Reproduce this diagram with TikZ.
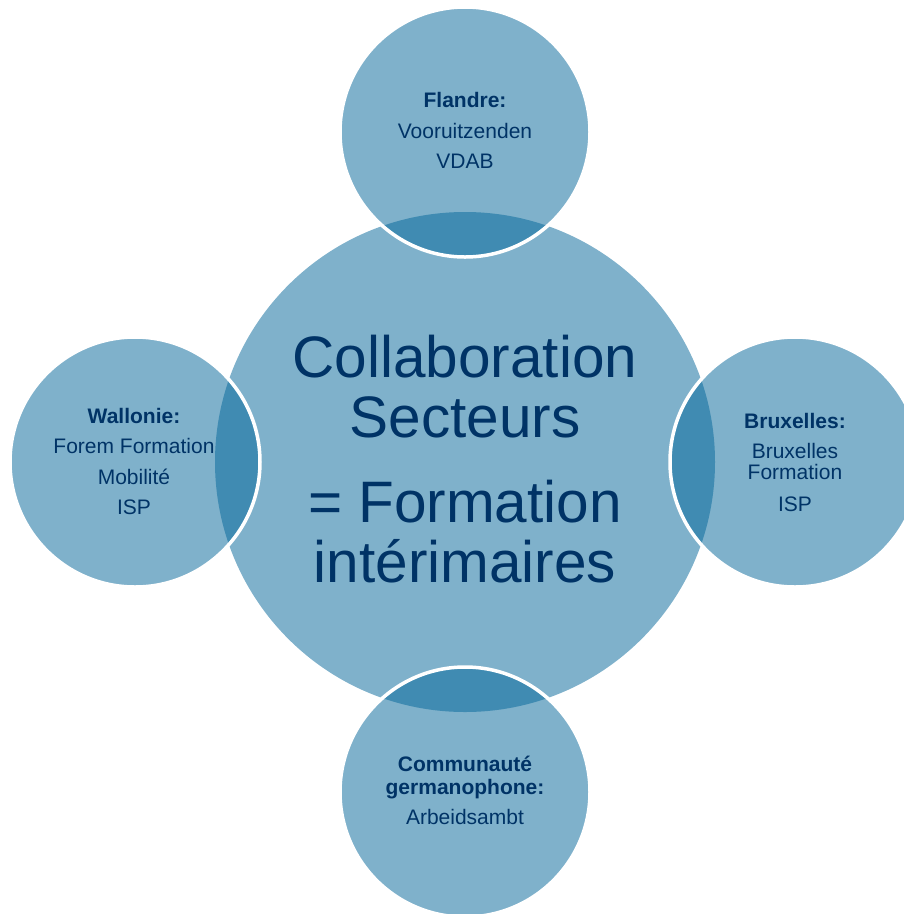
\documentclass[tikz,border=0pt]{standalone}
\usepackage{fontspec}
\setmainfont{Liberation Sans}
\definecolor{light}{RGB}{127,177,203}
\definecolor{deep}{RGB}{64,139,178}
\definecolor{ink}{RGB}{0,51,102}
\begin{document}
\begin{tikzpicture}[x=1pt,y=-1pt,
  disc/.style={circle, fill=light, inner sep=0pt, outer sep=0pt},
  ring/.style={draw=white, line width=3.5pt},
  small/.style={text=ink, align=center, inner sep=0pt, font=\fontsize{21}{30.5}\selectfont},
  big/.style={text=ink, align=center, inner sep=0pt, font=\fontsize{58.5}{60}\selectfont}]
\useasboundingbox (0,0) rectangle (904,914);
\clip (0,0) rectangle (904,914);
\node[disc, minimum size=500pt] (C) at (465,462) {};
\foreach \n/\x/\y in {T/465/132, L/135/462, R/795/462, B/465/792}
  \node[disc, minimum size=250pt] (\n) at (\x,\y) {};
\begin{scope}
  \clip (C.center) circle[radius=250pt];
  \foreach \n in {T,L,R,B} \fill[deep] (\n.center) circle[radius=125pt];
\end{scope}
\foreach \n in {T,L,R,B} \draw[ring] (\n.center) circle[radius=125pt];
\node[big] (ctext) at (465,459) {Collaboration\\Secteurs\\[25pt]= Formation\\intérimaires};
\node[small] (ttext) at (465,130.5) {\textbf{Flandre:}\\Vooruitzenden\\VDAB};
\node[small] (ltext) at (134,461.5) {\textbf{Wallonie:}\\Forem Formation\\Mobilité\\ISP};
\node[small, font=\fontsize{21}{21}\selectfont] (rtext) at (795,462.5) {\textbf{Bruxelles:}\\[9pt]Bruxelles\\Formation\\[11pt]ISP};
\node[small, font=\fontsize{21}{23}\selectfont] (btext) at (465,790.5) {\textbf{Communauté}\\\textbf{germanophone:}\\[7pt]Arbeidsambt};
\end{tikzpicture}
\end{document}
